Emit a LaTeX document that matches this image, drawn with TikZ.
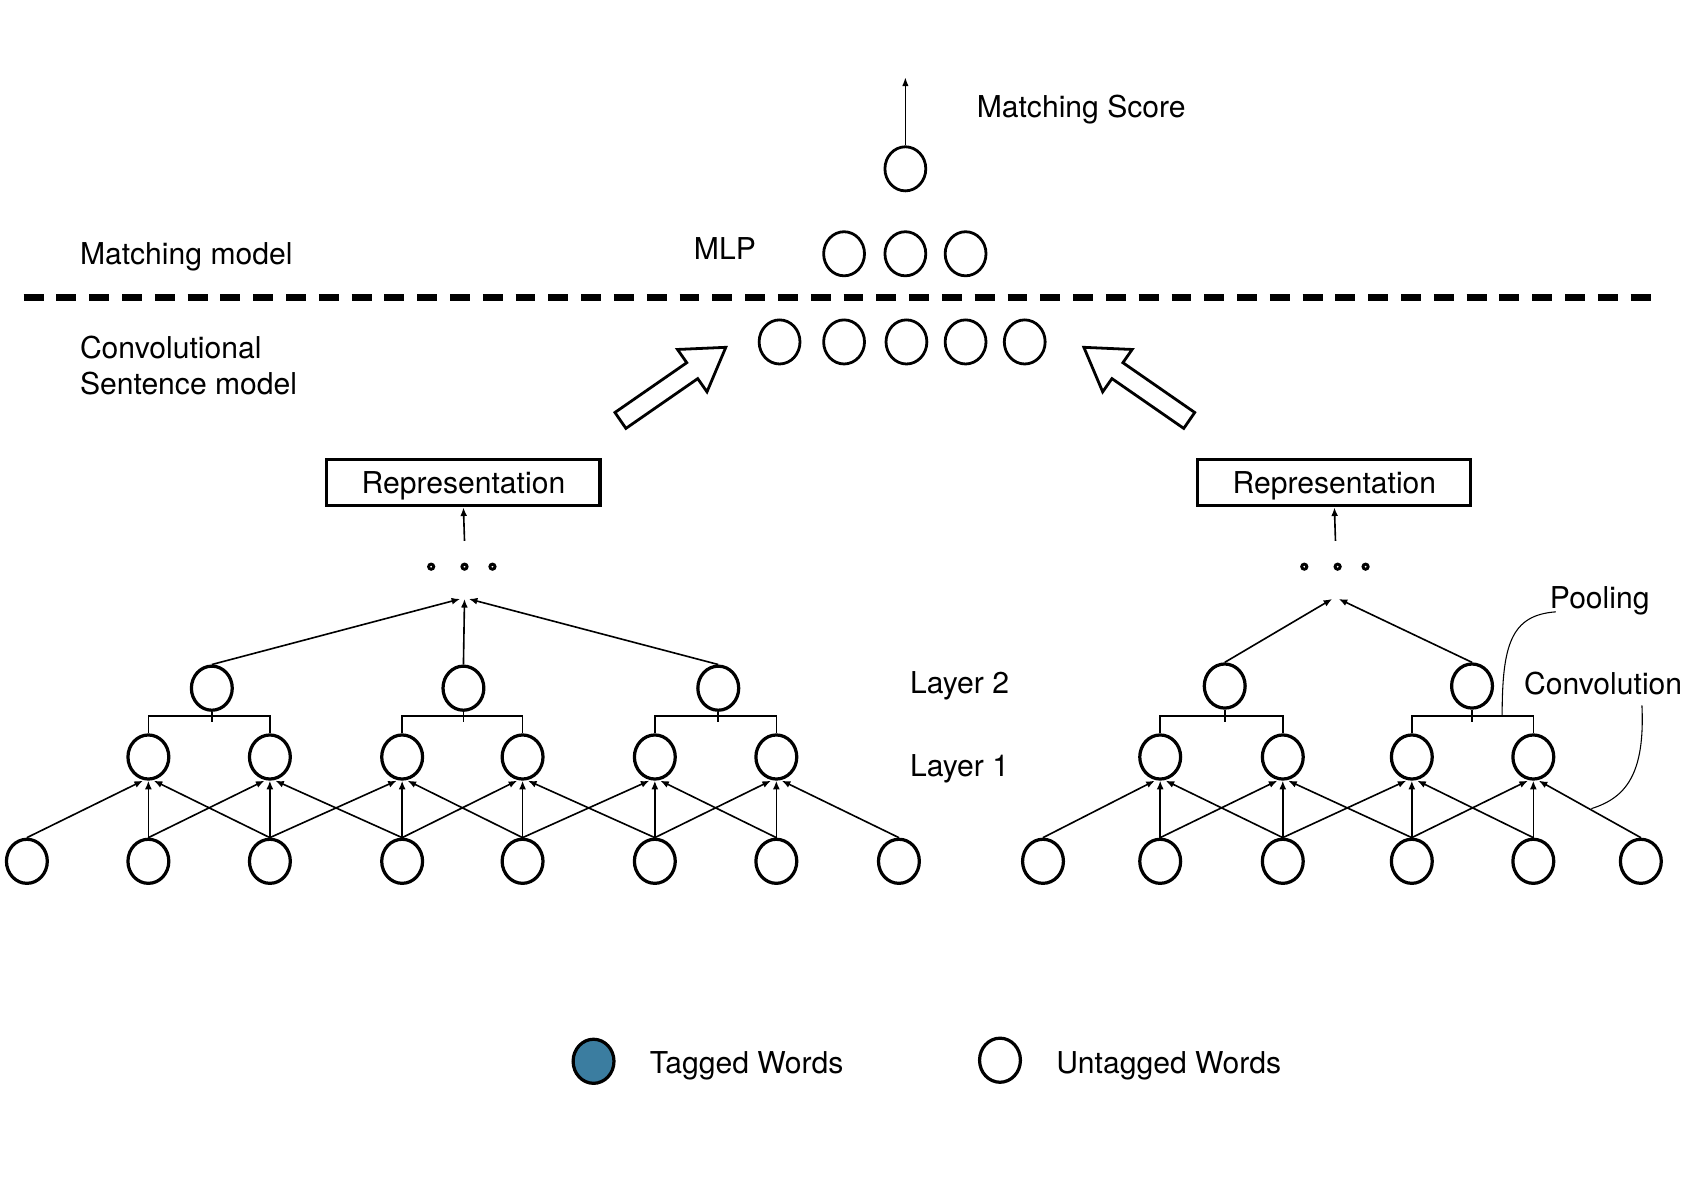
\documentclass[tikz,border=0pt]{standalone}
\usepackage{fontspec}
\setmainfont{TeX Gyre Heros}
\usetikzlibrary{arrows.meta,shapes.geometric}
\definecolor{tagblue}{RGB}{59,125,160}
\begin{document}
\begin{tikzpicture}[x=0.5pt,y=-0.5pt,
  nd/.style={draw,ellipse,line width=1.5pt,minimum width=19pt,minimum height=20.5pt,inner sep=0pt},
  ndt/.style={nd,line width=1.3pt},
  conn/.style={line width=0.75pt,-{Latex[length=4pt,width=3.2pt]}},
  plain/.style={line width=0.75pt},
  lbl/.style={font=\fontsize{14pt}{16pt}\selectfont,inner sep=0pt,anchor=base west},
  rep/.style={draw,line width=1.4pt,minimum width=127pt,minimum height=21.5pt,inner sep=0pt,text depth=0pt,font=\fontsize{14pt}{16pt}\selectfont},
  dotc/.style={draw,circle,line width=1.35pt,minimum size=2.4pt,inner sep=0pt},
  bigarrow/.style={draw,line width=1.3pt,line join=miter,fill=white}]
\useasboundingbox (0,0) rectangle (1568,1094);

% ---- top: matching model ----
\node[ndt] (score) at (842,157) {};
\coordinate (scoreout) at (842,72);
\draw[line width=0.6pt,-{Latex[length=4pt,width=3pt]}] (score.north) -- (scoreout);
\node[lbl] (mscore) at (908,109) {Matching Score};
\node[lbl] (mlp) at (645,241) {MLP};
\node[ndt] (m1) at (785,236) {};
\node[ndt] (m2) at (842,236) {};
\node[ndt] (m3) at (898,236) {};
\node[lbl] (mm) at (74,246) {Matching model};

\coordinate (dl) at (22,277);
\coordinate (dr) at (1540,277);
\draw[line width=3.25pt,dash pattern=on 9.25pt off 6pt] (dl) -- (dr);

\node[lbl] (cs1) at (74,333) {Convolutional};
\node[lbl] (cs2) at (74,367) {Sentence model};
\foreach \x [count=\i] in {725,785,843,898,953} \node[ndt] (s\i) at (\x,318) {};

% big hollow arrows
\draw[bigarrow] (582.1,398.4) -- (648.9,352.1) -- (657.5,364.4) -- (675,323) -- (630.1,325.0) -- (638.7,337.3) -- (571.9,383.6) -- cycle;
\draw[bigarrow] (1100.9,398.4) -- (1034.1,352.1) -- (1025.5,364.4) -- (1008,323) -- (1052.9,325.0) -- (1044.3,337.3) -- (1111.1,383.6) -- cycle;

% ---- left sentence model ----
\node[rep] (lrep) at (431,449) {Representation};
\node[dotc] (ld1) at (401,527) {};
\node[dotc] (ld2) at (432,527) {};
\node[dotc] (ld3) at (458,527) {};
\coordinate (ldstart) at (432,503);
\draw[conn] (ldstart) -- (lrep.south);
\coordinate (ltop) at (432,557);

\foreach \x [count=\i] in {25,138,251,374,486,609,722,836} \node[nd] (lb\i) at (\x,801) {};
\foreach \x [count=\i] in {138,251,374,486,609,722} \node[nd] (la\i) at (\x,704) {};
\node[nd] (lc1) at (197,640) {};
\node[nd] (lc2) at (431,640) {};
\node[nd] (lc3) at (668,640) {};

\foreach \i in {1,...,6} {
  \pgfmathtruncatemacro\j{\i+1}
  \pgfmathtruncatemacro\k{\i+2}
  \draw[conn] (lb\i.north) -- ([xshift=-2.5pt]la\i.south);
  \draw[conn] (lb\j.north) -- (la\i.south);
  \draw[conn] (lb\k.north) -- ([xshift=2.5pt]la\i.south);
}
\foreach \a/\b/\c in {1/2/1,3/4/2,5/6/3} {
  \draw[plain] (la\a.north) -- ++(0,-16) -| (la\b.north);
  \draw[plain] (lc\c.south) -- ++(0,9);
}
\draw[conn] (lc1.north) -- ([xshift=-2pt]ltop);
\draw[conn] (lc2.north) -- (ltop);
\draw[conn] (lc3.north) -- ([xshift=2pt]ltop);

% ---- right sentence model ----
\node[rep] (rrep) at (1241,449) {Representation};
\node[dotc] (rd1) at (1213,527) {};
\node[dotc] (rd2) at (1244,527) {};
\node[dotc] (rd3) at (1270,527) {};
\coordinate (rdstart) at (1242,503);
\draw[conn] (rdstart) -- (rrep.south);
\coordinate (rtop) at (1242,557);

\foreach \x [count=\i] in {970,1079,1193,1313,1426,1526} \node[nd] (rb\i) at (\x,801) {};
\foreach \x [count=\i] in {1079,1193,1313,1426} \node[nd] (ra\i) at (\x,704) {};
\node[nd] (rc1) at (1139,638) {};
\node[nd] (rc2) at (1369,638) {};

\foreach \i in {1,...,4} {
  \pgfmathtruncatemacro\j{\i+1}
  \pgfmathtruncatemacro\k{\i+2}
  \draw[conn] (rb\i.north) -- ([xshift=-2.5pt]ra\i.south);
  \draw[conn] (rb\j.north) -- (ra\i.south);
  \draw[conn] (rb\k.north) -- ([xshift=2.5pt]ra\i.south);
}
\foreach \a/\b/\c in {1/2/1,3/4/2} {
  \draw[plain] (ra\a.north) -- ++(0,-16) -| (ra\b.north);
  \draw[plain] (rc\c.south) -- ++(0,11);
}
\draw[conn] (rc1.north) -- ([xshift=-1.5pt]rtop);
\draw[conn] (rc2.north) -- ([xshift=1.5pt]rtop);

% layer labels
\node[lbl] (lay2) at (846,645) {Layer 2};
\node[lbl] (lay1) at (846,722) {Layer 1};

% annotations
\node[lbl] (pool) at (1441,566) {Pooling};
\node[lbl] (convl) at (1417,646) {Convolution};
\coordinate (poolpt) at (1397,666);
\coordinate (poolend) at (1447,569);
\draw[line width=0.5pt] (poolpt) .. controls (1397,600) and (1405,572) .. (poolend);
\coordinate (convstart) at (1527,656);
\coordinate (convend) at (1480,752);
\draw[line width=0.5pt] (convstart) .. controls (1530,720) and (1512,742) .. (convend);

% legend
\node[nd,fill=tagblue] (tagc) at (552,987) {};
\node[lbl] (tagl) at (604,998) {Tagged Words};
\node[nd] (untc) at (930,986) {};
\node[lbl] (untl) at (982,998) {Untagged Words};
\end{tikzpicture}
\end{document}
